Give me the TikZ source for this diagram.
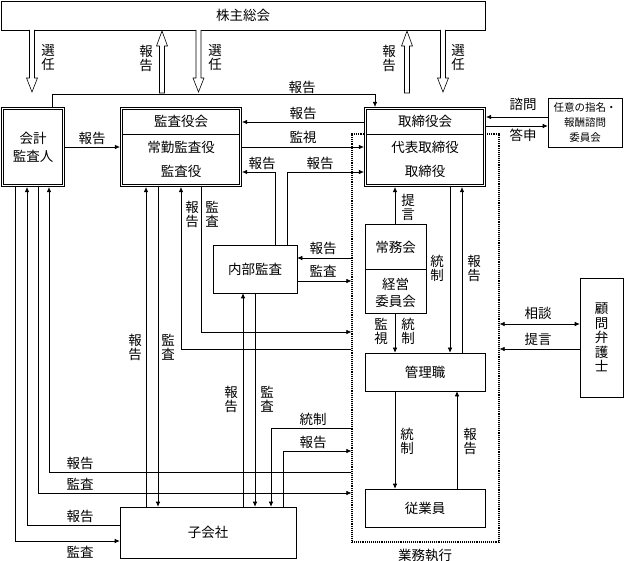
\documentclass[tikz,border=0pt]{standalone}
\usepackage{fontspec}
\setmainfont{Noto Sans CJK JP}
\usetikzlibrary{arrows.meta}

\tikzstyle{box} = [rectangle, draw=black, fill=white, inner sep=0pt, text centered, align=center, font=\fontsize{13.5}{15}\selectfont]
\tikzstyle{dbox} = [box, double, double distance=1.5pt]
\tikzstyle{dotbox} = [rectangle, draw=black, line width=1.2pt, dash pattern=on 1pt off 0.9pt]
\tikzstyle{lbl} = [inner sep=0pt, align=center, font=\fontsize{13.5}{14}\selectfont]
\tikzstyle{arrow} = [-{Latex[length=5pt,width=4.5pt]}]
\tikzstyle{darrow} = [arrow, shorten >=1.3pt]
\tikzstyle{twoway} = [{Latex[length=5pt,width=4.5pt]}-{Latex[length=5pt,width=4.5pt]}]

% hollow arrows between the general meeting and the boards
\newcommand{\hollowdown}[3]{\draw[fill=white] (#1-2.5,#2) -- (#1-2.5,#3-14) -- (#1-5.5,#3-14) -- (#1,#3) -- (#1+5.5,#3-14) -- (#1+2.5,#3-14) -- (#1+2.5,#2);}
\newcommand{\hollowup}[3]{\draw[fill=white] (#1-2.5,#3) -- (#1-2.5,#2+15) -- (#1-5.5,#2+15) -- (#1,#2) -- (#1+5.5,#2+15) -- (#1+2.5,#2+15) -- (#1+2.5,#3) -- cycle;}

\begin{document}
\begin{tikzpicture}[x=1pt, y=-1pt, line width=0.6pt]
\useasboundingbox (0,0) rectangle (624,561);

% boxes
\node (kabu) [box, minimum width=484pt, minimum height=29pt] at (243,15.5) {株主総会};
\node (gyomu) [dotbox, minimum width=147pt, minimum height=408pt] at (425.5,338) {};
\node (gyomut) [lbl] at (425,555) {業務執行};

\node (kaikei) [dbox, minimum width=61pt, minimum height=77pt, font=\fontsize{13.5}{18}\selectfont] at (33,147) {会計\\監査人};
\node (kansa) [dbox, minimum width=119pt, minimum height=77pt] at (181,147) {};
\draw [shorten <=1.4pt, shorten >=1.4pt] (kansa.west |- 0,134) -- (kansa.east |- 0,134);
\node (kansat) [lbl] at (181,121) {監査役会};
\node (kansab) [lbl, font=\fontsize{13.5}{24}\selectfont] at (181,159) {常勤監査役\\監査役};

\node (tori) [dbox, minimum width=119pt, minimum height=77pt] at (425,147) {};
\draw [shorten <=1.4pt, shorten >=1.4pt] (tori.west |- 0,134) -- (tori.east |- 0,134);
\node (torit) [lbl] at (425,121) {取締役会};
\node (torib) [lbl, font=\fontsize{13.5}{24}\selectfont] at (425,159) {代表取締役\\取締役};

\node (nini) [box, minimum width=74pt, minimum height=49pt, font=\fontsize{10.5}{15}\selectfont] at (585,122.5) {任意の指名・\\報酬諮問\\委員会};

\node (naibu) [box, minimum width=84pt, minimum height=48pt] at (255,269) {内部監査};
\node (jomu) [box, minimum width=61pt, minimum height=89pt] at (395.5,268.5) {};
\draw (jomu.west |- 0,269) -- (jomu.east |- 0,269);
\node (jomut) [lbl] at (395.5,247) {常務会};
\node (jomub) [lbl, font=\fontsize{13.5}{17}\selectfont] at (395.5,293) {経営\\委員会};
\node (kanri) [box, minimum width=120pt, minimum height=38pt] at (425,372) {管理職};
\node (jugyo) [box, minimum width=120pt, minimum height=38pt] at (425,508) {従業員};
\node (komon) [box, minimum width=43pt, minimum height=119pt, font=\fontsize{13.5}{14.5}\selectfont] at (601.5,337.5) {顧\\問\\弁\\護\\士};
\node (kogai) [box, minimum width=176pt, minimum height=51pt] at (208,532.5) {子会社};

% general meeting
\hollowdown{32}{30}{92}
\hollowup{162}{31}{93}
\hollowdown{198.5}{30}{92}
\hollowup{407}{31}{93}
\hollowdown{443}{30}{92}
\node (s1) [lbl] at (48,58) {選\\任};
\node (s2) [lbl] at (146,58) {報\\告};
\node (s3) [lbl] at (215,58) {選\\任};
\node (s4) [lbl] at (389,58) {報\\告};
\node (s5) [lbl] at (458,58) {選\\任};

% auditors and boards
\draw [darrow] (kaikei.north -| 52,0) -- ++(0,-14) -| (tori.north -| 375,0);
\node (t1) [lbl] at (302,87) {報告};
\draw [darrow] (kaikei.east) -- (kansa.west);
\node (t2) [lbl] at (92,138) {報告};
\draw [darrow] (tori.west |- 0,122) -- (kansa.east |- 0,122);
\node (t3) [lbl] at (303,113) {報告};
\draw [darrow] (kansa.east) -- (tori.west);
\node (t4) [lbl] at (303,137) {監視};
\draw [darrow] (nini.west |- 0,117) -- (tori.east |- 0,117);
\node (t5) [lbl] at (523,104) {諮問};
\draw [arrow] (tori.east |- 0,126) -- (nini.west |- 0,126);
\node (t6) [lbl] at (523,135) {答申};

% internal audit
\draw [darrow] (naibu.north -| 275,0) |- (kansa.east |- 0,172);
\node (t7) [lbl] at (262,163) {報告};
\draw [darrow] (naibu.north -| 287,0) |- (tori.west |- 0,172);
\node (t8) [lbl] at (320,163) {報告};
\draw [arrow] (gyomu.west |- 0,258) -- (naibu.east |- 0,258);
\node (t9) [lbl] at (323,248) {報告};
\draw [arrow] (naibu.east |- 0,281) -- (gyomu.west |- 0,281);
\node (t10) [lbl] at (323,271) {監査};

% execution
\draw [darrow] (jomu.north -| 395,0) -- (tori.south -| 395,0);
\node (t11) [lbl] at (408,207) {提\\言};
\draw [arrow] (tori.south -| 450,0) -- (kanri.north -| 450,0);
\node (t12) [lbl] at (437,268) {統\\制};
\draw [darrow] (kanri.north -| 462,0) -- (tori.south -| 462,0);
\node (t13) [lbl] at (474,268) {報\\告};
\draw [arrow] (jomu.south -| 395,0) -- (kanri.north -| 395,0);
\node (t14) [lbl] at (381,331) {監\\視};
\node (t15) [lbl] at (408,331) {統\\制};
\draw [arrow] (kanri.south -| 395,0) -- (jugyo.north -| 395,0);
\node (t16) [lbl] at (407,441) {統\\制};
\draw [arrow] (jugyo.north -| 457,0) -- (kanri.south -| 457,0);
\node (t17) [lbl] at (470,441) {報\\告};

% lawyer
\draw [twoway] (gyomu.east |- 0,324) -- (komon.west |- 0,324);
\node (t18) [lbl] at (538,313) {相談};
\draw [arrow] (komon.west |- 0,349) -- (gyomu.east |- 0,349);
\node (t19) [lbl] at (538,339) {提言};

% accounting auditor lines
\draw [arrow] (kaikei.south -| 15,0) |- (kogai.west |- 0,541);
\node (t20) [lbl] at (80,552) {監査};
\draw [darrow] (kogai.west |- 0,525) -| (kaikei.south -| 27,0);
\node (t21) [lbl] at (80,516) {報告};
\draw [arrow] (kaikei.south -| 38,0) |- (gyomu.west |- 0,493);
\node (t22) [lbl] at (80,484) {監査};
\draw [darrow] (gyomu.west |- 0,472) -| (kaikei.south -| 49,0);
\node (t23) [lbl] at (80,463) {報告};

% audit board lines
\draw [darrow] (kogai.north -| 146,0) -- (kansa.south -| 146,0);
\node (t24) [lbl] at (135,347) {報\\告};
\draw [arrow] (kansa.south -| 158,0) -- (kogai.north -| 158,0);
\node (t25) [lbl] at (168,347) {監\\査};
\draw [darrow] (gyomu.west |- 0,349) -| (kansa.south -| 181,0);
\node (t26) [lbl] at (192,214) {報\\告};
\draw [arrow] (kansa.south -| 201,0) |- (gyomu.west |- 0,332);
\node (t27) [lbl] at (212,214) {監\\査};

% subsidiaries
\draw [arrow] (kogai.north -| 243,0) -- (naibu.south -| 243,0);
\node (t28) [lbl] at (231,399) {報\\告};
\draw [arrow] (naibu.south -| 255,0) -- (kogai.north -| 255,0);
\node (t29) [lbl] at (267,399) {監\\査};
\draw [arrow] (gyomu.west |- 0,428) -| (kogai.north -| 271,0);
\node (t30) [lbl] at (313,419) {統制};
\draw [arrow] (kogai.north -| 283,0) |- (gyomu.west |- 0,451);
\node (t31) [lbl] at (313,442) {報告};

\end{tikzpicture}
\end{document}
